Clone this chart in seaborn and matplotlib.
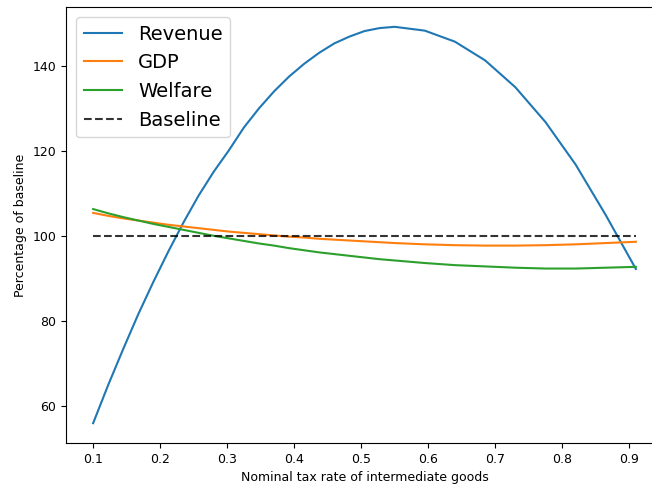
import numpy as np
import pandas as pd
import matplotlib.pyplot as plt
import seaborn as sns

# 名义税率（中间品）
tax_rate = [0.1, 0.1225, 0.145, 0.1675, 0.19, 0.2125, 0.235, 0.2575, 0.28,
            0.3025, 0.325, 0.3475, 0.37, 0.3925, 0.415, 0.4375, 0.46, 0.4825,
            0.505, 0.5275, 0.55, 0.595, 0.64, 0.685, 0.73, 0.775, 0.82, 0.865,
            0.91]

# 各指标占基准的百分比
revenue = [56.0, 65.0, 73.5, 81.7, 89.3, 96.5, 103.3, 109.6, 115.2,
           120.2, 125.6, 130.1, 134.1, 137.6, 140.6, 143.2, 145.4, 147.0,
           148.3, 149.0, 149.3, 148.4, 145.8, 141.4, 135.1, 126.9, 116.9, 105.0,
           92.3]
gdp = [105.5, 104.8, 104.2, 103.7, 103.2, 102.7, 102.3, 101.9, 101.5,
       101.1, 100.8, 100.5, 100.2, 99.9, 99.7, 99.4, 99.2, 99.0,
       98.8, 98.6, 98.4, 98.1, 97.9, 97.8, 97.8, 97.9, 98.1, 98.4,
       98.7]
welfare = [106.4, 105.4, 104.5, 103.7, 102.9, 102.2, 101.5, 100.8, 100.1,
           99.5, 98.9, 98.3, 97.8, 97.2, 96.7, 96.2, 95.8, 95.4,
           95.0, 94.6, 94.3, 93.7, 93.2, 92.9, 92.6, 92.4, 92.4, 92.6,
           92.8]
baseline = [100.0] * len(tax_rate)

series_names = ['Revenue', 'GDP', 'Welfare']
series_colors = ['#1f77b4', '#ff7f0e', '#2ca02c']

df = pd.DataFrame({
    'tax_rate': tax_rate * 3,
    'value': revenue + gdp + welfare,
    'series': [s for s in series_names for _ in tax_rate],
})
df_base = pd.DataFrame({'tax_rate': tax_rate, 'value': baseline})

fig = plt.figure(figsize=(6.52, 4.86), dpi=100)
# 原图右侧被裁掉，坐标轴右边界在画布外
ax = fig.add_axes([66 / 652, 43 / 486, 597 / 652, 436 / 486])

sns.lineplot(data=df, x='tax_rate', y='value', hue='series',
             hue_order=series_names, palette=series_colors,
             linewidth=1.5, ax=ax)
sns.lineplot(data=df_base, x='tax_rate', y='value', color='black', alpha=0.8,
             linestyle='--', linewidth=1.5, label='Baseline', ax=ax)

ax.spines['right'].set_visible(False)
ax.set_xticks([0.1, 0.2, 0.3, 0.4, 0.5, 0.6, 0.7, 0.8, 0.9])
ax.set_yticks([60, 80, 100, 120, 140])
ax.tick_params(labelsize=9)
ax.set_xlabel('Nominal tax rate of intermediate goods', fontsize=9)
ax.set_ylabel('Percentage of baseline', fontsize=9)
ax.legend(loc='upper left', fontsize=14)

plt.savefig('out.png', dpi=100)
